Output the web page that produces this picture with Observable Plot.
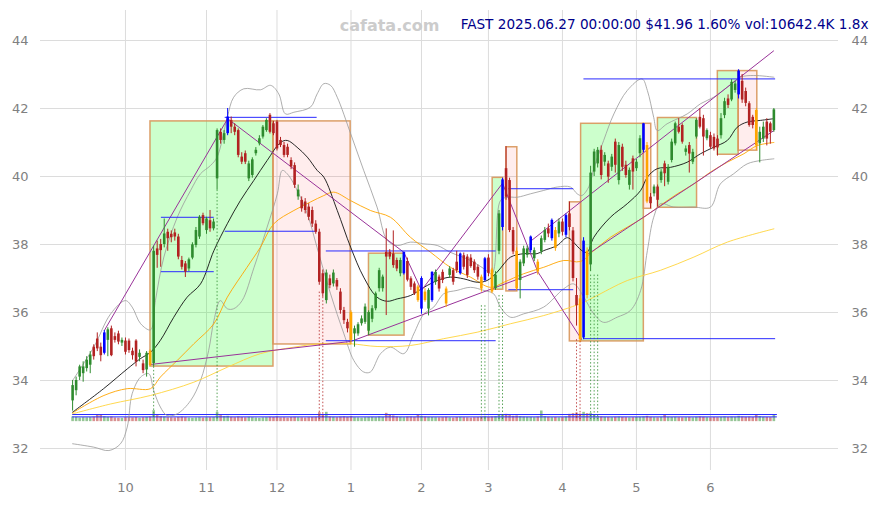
<!DOCTYPE html>
<html><head><meta charset="utf-8">
<script src="https://cdn.jsdelivr.net/npm/d3@7"></script>
<script src="https://cdn.jsdelivr.net/npm/@observablehq/plot@0.6"></script>
<style>
html,body{margin:0;padding:0;background:#fff;}
#chart{width:878px;height:505px;}
</style>
</head><body><div id="chart"></div>
<script>
// ---- axis ticks ----
const monthTicks = [15, 38, 58, 79, 99, 118, 139, 160, 181];
const monthLabels = ["10","11","12","1","2","3","4","5","6"];
const yTicks = [32,34,36,38,40,42,44];

// ---- daily candles (trading-day index 0..199) ----
const opens = [
33.40,33.70,34.10,34.20,34.35,34.45,34.98,35.22,34.98,34.80,
35.18,35.52,35.29,35.37,35.10,35.16,35.16,34.86,35.16,34.68,
34.49,34.31,34.86,34.50,37.87,38.00,38.00,38.36,38.30,38.34,
38.22,37.53,37.43,37.28,37.60,37.97,38.22,38.85,38.41,38.70,
38.46,39.93,41.30,41.06,41.26,41.65,41.45,41.35,40.57,40.67,
39.93,40.03,40.67,40.96,41.16,41.35,41.80,41.55,41.60,41.06,
40.91,40.86,40.47,40.32,39.40,39.30,39.25,39.10,39.00,38.60,
38.36,37.14,36.35,36.99,36.84,36.94,36.60,36.06,35.71,36.00,
35.37,35.37,35.67,35.71,35.45,35.80,36.11,36.70,36.70,37.77,
37.77,37.72,37.53,37.14,37.14,37.50,36.99,36.84,36.75,36.10,
36.60,36.10,36.35,36.89,37.04,37.18,36.69,37.09,37.23,37.48,
37.14,37.67,37.63,37.60,37.48,37.33,37.04,36.94,37.60,37.25,
36.70,37.80,38.50,40.23,39.88,38.41,37.80,36.94,37.43,37.68,
37.82,37.58,37.48,37.78,38.12,38.46,38.17,38.41,38.31,38.66,
38.27,38.90,38.40,36.50,36.40,35.25,37.80,37.40,40.13,40.37,
40.77,40.42,40.37,40.27,41.01,39.88,40.86,40.33,39.74,40.52,
40.23,40.67,40.77,40.91,39.39,39.49,39.69,39.88,40.37,39.83,
40.47,40.96,41.45,41.50,40.71,40.91,40.42,41.16,41.74,41.70,
41.11,41.20,41.15,41.10,41.20,41.79,42.28,42.25,42.53,42.40,
42.80,42.50,42.14,41.74,41.94,40.96,41.10,41.60,41.55,41.35];
const highs = [
34.00,34.10,34.45,34.55,34.70,34.85,35.05,35.40,35.10,35.47,
35.55,35.60,35.40,35.45,35.25,35.25,35.22,34.95,35.20,34.90,
34.60,34.85,34.90,37.95,38.10,38.15,38.75,38.45,38.40,38.45,
38.30,37.65,37.50,37.60,38.05,38.50,38.85,38.92,38.80,39.00,
38.75,41.40,41.40,41.35,42.00,41.75,41.55,41.40,40.70,40.75,
40.45,40.55,40.85,41.20,41.50,41.70,41.85,41.62,41.65,41.15,
41.00,40.95,40.55,40.40,39.75,39.40,39.35,39.20,39.10,38.70,
38.45,37.25,37.25,37.10,37.25,37.00,36.70,36.15,35.80,36.05,
35.60,35.70,35.90,36.25,36.05,36.20,36.60,37.30,37.10,38.46,
37.85,38.40,37.60,37.60,37.77,37.60,37.05,36.90,36.80,37.05,
36.70,36.70,37.20,37.25,37.10,37.25,36.75,37.35,37.30,37.80,
37.75,37.75,37.70,37.70,37.55,37.40,37.10,37.62,37.70,37.30,
37.20,39.00,39.95,40.88,39.95,38.50,37.90,37.55,37.95,37.95,
38.25,37.90,37.55,38.25,38.50,38.60,38.75,38.50,38.75,38.75,
38.90,39.25,38.50,37.00,36.50,38.20,37.90,40.30,40.80,40.85,
40.90,40.70,40.45,40.65,41.10,41.00,40.95,40.45,40.25,40.60,
40.50,41.20,41.55,41.00,39.50,39.75,39.75,40.20,40.45,40.35,
41.10,41.60,41.70,41.55,40.90,41.00,40.80,41.70,42.00,41.80,
41.40,41.30,41.25,41.20,41.85,42.30,42.40,42.85,42.80,43.14,
43.00,42.60,42.20,41.80,42.00,41.45,41.60,41.70,41.60,42.00];
const lows = [
33.10,33.55,34.00,33.95,34.25,34.20,34.60,34.85,34.55,34.75,
34.70,34.70,35.10,35.05,35.00,34.75,34.80,34.60,34.40,34.55,
34.20,34.10,34.41,34.40,37.30,37.33,37.90,37.80,38.05,38.10,
37.55,37.25,37.03,37.20,37.55,37.90,38.15,38.55,38.30,38.36,
38.40,39.60,40.95,40.95,41.20,41.26,41.20,40.55,40.35,40.35,
39.85,39.95,40.60,40.90,41.10,41.30,41.25,41.20,40.75,40.85,
40.55,40.55,40.20,39.65,39.30,38.95,38.90,38.70,38.50,38.30,
36.80,36.45,36.25,36.70,36.75,36.65,35.95,35.65,35.40,35.05,
34.98,35.30,35.60,35.65,35.32,35.70,36.05,36.60,36.60,35.91,
37.55,37.30,37.20,37.05,37.10,36.90,36.65,36.50,36.30,35.95,
36.30,35.90,36.30,36.80,36.60,36.85,36.15,37.00,36.80,37.15,
37.10,37.25,37.00,37.30,37.15,36.95,36.60,36.90,37.05,36.55,
36.65,37.70,38.40,39.30,38.35,37.70,36.63,36.40,37.35,37.60,
37.75,37.50,37.10,37.70,38.05,38.20,38.10,37.80,38.20,38.25,
38.20,38.40,36.90,35.60,35.13,35.20,36.40,37.20,40.00,40.25,
39.90,40.30,39.80,40.15,40.10,39.75,40.15,39.95,39.60,39.60,
40.15,40.55,40.70,39.20,39.05,39.40,39.10,39.80,39.70,39.75,
40.40,40.90,41.25,40.95,40.60,40.10,40.35,41.10,41.40,40.60,
41.05,40.80,40.75,40.60,41.10,41.70,42.00,42.20,42.45,42.28,
42.15,42.05,41.45,41.40,40.76,40.40,41.00,40.90,40.95,41.30];
const closes = [
33.85,34.00,34.40,34.40,34.60,34.75,34.70,34.93,34.73,35.40,
35.49,34.73,35.18,35.13,35.18,34.83,34.88,34.73,34.54,34.80,
34.29,34.80,34.44,37.80,37.68,37.82,38.31,38.17,38.20,38.22,
37.63,37.33,37.19,37.55,37.99,38.41,38.80,38.61,38.75,38.46,
38.66,41.35,41.06,41.26,41.75,41.45,41.30,40.62,40.42,40.42,
40.37,40.49,40.77,41.11,41.45,41.65,41.30,41.26,40.81,40.91,
40.62,40.62,40.28,39.74,39.60,39.05,39.00,38.80,38.60,38.36,
36.89,36.55,37.16,36.79,37.16,36.75,36.06,35.76,35.52,35.18,
35.52,35.64,35.81,36.16,36.00,36.11,36.55,37.23,37.04,37.63,
37.63,37.38,37.28,37.53,37.77,36.95,36.74,36.55,36.35,37.00,
36.35,36.65,37.18,37.18,36.69,36.94,36.25,37.28,36.89,37.23,
37.72,37.33,37.09,37.35,37.23,37.04,36.69,37.58,37.15,36.60,
37.10,38.90,39.90,39.39,38.41,37.78,36.70,37.48,37.87,37.87,
38.22,37.82,37.19,38.17,38.41,38.31,38.71,37.88,38.66,38.36,
38.85,38.50,37.00,36.20,35.20,38.10,36.50,40.10,40.72,40.77,
40.03,40.62,39.98,40.57,40.33,40.91,40.27,40.03,40.18,40.13,
40.42,41.11,41.55,39.25,39.20,39.69,39.30,40.13,40.08,40.27,
41.01,41.55,41.30,41.01,40.81,40.66,40.71,41.65,41.45,41.16,
41.35,40.86,40.81,40.84,41.70,42.20,42.09,42.77,42.72,43.10,
42.25,42.15,41.50,41.50,40.90,41.30,41.45,41.10,41.30,41.96];
// candle signal kind: G up, R down, B blue signal, O orange signal
const kinds =
"GGGGGGRRRB"+"GRRRGRRRRG"+"RGOGRRGRRR"+"RRRGGGGRGR"+"GGRGBRRRRR"+
"GGGGGGRRRR"+"RRRRGRRRRR"+"RRGRGRRRRO"+"GGGGGGGGGR"+"RRRGBRRROB"+
"OGBGRROGRR"+"BRRRRROBRO"+"GGBRRROGGG"+"BGOGGRBOGR"+"BRRROBOGGG"+
"RGRGRGRRGR"+"GGBORGRGRG"+"GGRRGRGGRR"+"GRRRGGRGGB"+"RRRROGGRRG";
// volume in thousands of shares
const volumes = [
7000,6500,5500,6000,5800,6200,6800,9500,10500,7500,
6500,7000,5500,5200,5000,6000,6500,5800,6200,5400,
6000,6300,7000,16500,9000,7500,6800,6000,5800,5500,
6200,6800,6000,5500,5200,5600,6000,5500,5800,6000,
6200,14000,9000,7500,8000,6500,6000,7000,6200,5800,
6500,6000,5500,5200,5800,6000,6500,6200,7000,5800,
6000,5500,6200,6500,6000,5800,5500,6000,6200,6500,
13500,9000,14000,7000,6500,6000,6800,7200,6500,7500,
6000,5800,5500,6000,6200,6500,6000,7000,6500,12500,
9500,8500,7000,6500,6000,6800,7000,6500,10500,8000,
7000,6500,6200,6000,5800,6000,6500,5800,5500,6200,
6500,6000,5800,5500,6000,6200,7000,7500,6500,7000,
7500,9000,10000,11000,9000,8000,8500,7500,6800,6500,
6500,6000,6800,16000,7500,6500,6000,6200,5800,6000,
7000,11000,12000,13000,11500,14000,12000,12500,9000,7500,
7000,6500,6200,6000,6500,6800,6200,6000,5800,6000,
6200,6500,7000,8000,6500,6000,5800,6500,9500,6500,
6200,6500,6000,5800,6000,6200,5800,6500,7000,6500,
6000,5800,6200,6000,6500,7000,6200,6800,6500,8000,
7000,6500,6800,6200,9500,7500,6500,6200,6000,10642];
const volAvgLines = [33.00, 32.93];

// ---- indicator lines: [index, value] ----
const maBlack = [[0,33.07],[8.8,33.76],[15.5,34.34],[19.2,34.64],[22.1,34.83],[24.9,35.18],[28.7,35.86],[32.5,36.45],[36.3,36.84],[40.1,37.82],[43.9,38.61],[47.6,39.29],[51.4,39.88],[55.2,40.47],[59,41.0],[60.9,41.06],[63.7,40.86],[66.6,40.57],[69.4,40.18],[71.3,39.98],[75.1,39.0],[78.9,37.92],[82.6,37.04],[86.4,36.45],[89.3,36.33],[92.1,36.4],[95.9,36.5],[99.7,36.74],[103.5,36.94],[107.2,37.04],[111,36.99],[114.8,36.89],[117.6,36.94],[120.5,37.19],[122.4,37.43],[124.3,37.63],[128,37.73],[131.8,37.73],[133.7,37.82],[137.5,37.97],[140.4,38.2],[143.2,37.95],[144.5,37.82],[146,37.77],[147.9,38.21],[152.6,38.8],[157.4,39.2],[161.2,39.59],[163.1,39.98],[165.9,40.23],[169.7,40.27],[174.4,40.42],[178.2,40.67],[181.9,40.86],[185.8,41.06],[188.6,41.45],[191.4,41.6],[195.2,41.65],[199,41.7]];
const maOrange = [[0,33.05],[8.9,33.56],[15.5,33.76],[22.1,33.76],[24.9,34.1],[29.7,34.59],[34.4,35.08],[40.1,35.67],[43.9,36.45],[49.5,37.33],[53.3,37.92],[57.1,38.61],[62.8,39.0],[67.5,39.25],[71.3,39.44],[74.1,39.54],[78.9,39.29],[84.5,39.0],[90.2,38.8],[95.9,38.21],[101.6,37.77],[107.2,37.33],[112.9,37.04],[118.6,36.74],[122.4,36.89],[128,37.14],[133.7,37.33],[139.4,37.53],[144.1,37.5],[147.9,37.82],[152.6,38.21],[157.4,38.51],[162.1,38.8],[166.8,39.15],[171.6,39.49],[176.3,39.78],[181,40.13],[185.8,40.42],[190.5,40.67],[194.3,40.91],[199,41.0]];
const maGold = [[0,33.02],[10.8,33.31],[22.1,33.56],[34.4,33.95],[43.9,34.39],[53.3,34.79],[62.8,34.98],[70.3,35.08],[78.9,35.08],[86.4,35.0],[95.9,35.03],[105.3,35.23],[114.8,35.42],[124.3,35.67],[133.7,35.91],[144.1,36.26],[147.9,36.45],[157.4,36.94],[166.8,37.24],[176.3,37.63],[185.8,38.07],[199,38.46]];
const bandUpper = [[0,34.0],[6,34.98],[10.8,35.96],[15,36.35],[16.9,36.16],[19.3,35.67],[22.1,35.49],[23.5,36.35],[25.9,37.63],[29.7,38.8],[33.5,39.59],[36.3,40.08],[39.1,40.32],[41,40.57],[43.9,41.74],[45.7,42.33],[48.6,42.58],[53.3,42.55],[56.2,42.68],[58.5,42.43],[60.4,41.84],[62.8,41.89],[67.5,42.04],[69.4,42.43],[71.3,42.73],[73.2,42.68],[75.1,42.33],[78.9,41.26],[82.6,40.18],[86.4,39.1],[89.3,38.12],[92.1,37.97],[95.9,38.07],[99.7,38.02],[103.5,37.97],[107.2,37.77],[112.9,37.53],[116.7,37.29],[119,37.14],[121.4,39.29],[123.3,39.39],[126.2,39.39],[129.9,39.49],[133.7,39.59],[137.5,39.69],[141.3,39.69],[143.2,39.49],[144.5,39.44],[146.5,39.7],[148,40.27],[150.7,41.06],[153.6,41.84],[157.4,42.53],[161.6,42.87],[163.1,42.53],[164.9,41.74],[165.9,41.35],[168.7,41.55],[174.4,41.84],[178.2,42.14],[181.9,42.33],[185.8,42.63],[189.5,42.92],[193.3,42.97],[199,42.92]];
const bandLower = [[0,32.14],[6,32.04],[10.3,31.94],[13.6,32.14],[15.5,32.63],[16.9,33.61],[19.3,34.1],[21.6,34.2],[23,33.71],[24.9,33.22],[26.8,32.97],[29.7,33.02],[33.5,33.41],[36.3,34.0],[38.6,34.88],[40.1,35.76],[41.9,36.35],[43.9,36.11],[45.7,36.11],[48.1,36.35],[51.5,37.33],[55.2,38.51],[58.1,39.49],[59.5,40.18],[60.9,40.08],[62.8,39.78],[66.6,38.9],[69.4,37.9],[73.2,36.55],[77,35.37],[79.8,34.59],[82.6,34.25],[84.5,34.25],[87.4,34.79],[90.2,34.98],[94,34.79],[96.8,35.37],[99.7,35.96],[102.5,36.16],[105.3,36.55],[109.1,36.65],[112.9,36.74],[116.7,36.65],[119.5,36.55],[121.4,36.16],[124.3,35.86],[128,35.96],[133.7,36.16],[139.4,36.7],[142.2,36.84],[145.1,36.45],[147.9,35.96],[150.7,35.71],[154.5,35.86],[158.3,36.06],[161.2,36.65],[163.1,37.82],[164.9,38.8],[166.8,39.2],[170.6,39.1],[176.3,39.1],[181,39.1],[183.8,39.78],[187.6,40.08],[191.4,40.37],[195.2,40.47],[199,40.52]];

// ---- zigzag / channel lines: [i1, v1, i2, v2] ----
const trendLines = [
[9,35.47,44,41.7],[44,41.7,94,37.77],[94,37.77,99,36.65],[99,36.65,122,39.8],
[122,39.8,132,37.2],[132,37.2,144.5,35.2],[22,34.47,79,35.15],[79,35.15,132,37.2],
[130,38.1,199,43.7],[146,37.7,199,41.35]];

// ---- support / resistance lines: [i1, i2, value] ----
const levelLines = [
[25.2,40.2,38.8],[25.2,40.2,37.2],[43.3,69.4,38.39],[43.3,69.4,41.74],
[72,120.2,37.81],[72,120.2,35.17],[123.8,142.2,39.64],[123.8,142.2,36.67],
[145.1,199.5,42.87],[145.1,199.5,35.23]];

// ---- boxes: [i1, i2, low, high] ----
const upBoxes = [[22.1,57,34.41,41.62],[84.1,94.2,35.32,37.73],[119.2,122.2,36.67,39.96],[144.3,162.1,35.15,41.55],[166.1,177.2,39.08,41.72],[183.1,189,40.64,43.1]];
const downBoxes = [[57,78.9,35.06,41.62],[123.1,126.2,36.62,40.86],[141.1,144.3,35.15,39.24],[162.1,164.2,39.05,41.55],[189,194.3,40.76,43.1]];

// ---- signal marker dotted lines: [index, top value] ----
const upMarks = [[23,34.4],[41,39.6],[116,36.2],[117,36.2],[121,36.5],[122,36.5],[147,37.1],[148,37.1],[149,37.1]];
const downMarks = [[70,36.6],[71,36.45],[143,35.2],[144,35.15]];

const titleText = "FAST 2025.06.27 00:00:00 $41.96 1.60% vol:10642.4K 1.8x";
const watermark = "cafata.com";

// ---- build ----
const candles = opens.map((o,i)=>({i, o, h:highs[i], l:lows[i], c:closes[i], k:kinds[i], v:volumes[i]}));
const colors = {G:"#2e8b2e", R:"#b22222", B:"#0000ff", O:"#ffa500"};
const volBase = 32.79, volK = 0.0000196; // value units per thousand shares
const volTop = d => volBase + d.v * volK;

const candleMarks = [];
for (const k of ["G","R","B","O"]) {
  const data = candles.filter(d=>d.k===k);
  candleMarks.push(Plot.ruleX(data, {x:"i", y1:"l", y2:"h", stroke:colors[k], strokeWidth:1}));
  candleMarks.push(Plot.ruleX(data, {x:"i", y1:"o", y2:"c", stroke:colors[k], strokeWidth:2.6}));
}

const lineOpt = (stroke, w=0.8) => ({x:d=>d[0], y:d=>d[1], stroke, strokeWidth:w, curve:"catmull-rom"});

const chart = Plot.plot({
  width: 878, height: 505,
  marginLeft: 40, marginRight: 40, marginTop: 10, marginBottom: 35,
  style: {fontFamily: "DejaVu Sans", fontSize: "13px", background: "#fff"},
  x: {domain: [-9.109, 217.34]},
  y: {domain: [31.353, 44.882]},
  marks: [
    Plot.gridY(yTicks, {stroke:"#dcdcdc", strokeOpacity:1, strokeWidth:1}),
    Plot.gridX(monthTicks, {stroke:"#dcdcdc", strokeOpacity:1, strokeWidth:1}),
    Plot.axisY({anchor:"left", ticks:yTicks, tickSize:0, tickPadding:12, label:null, color:"#808080", fontSize:13}),
    Plot.axisY({anchor:"right", ticks:yTicks, tickSize:0, tickPadding:13, label:null, color:"#808080", fontSize:13}),
    Plot.axisX({ticks:monthTicks, tickFormat:d=>monthLabels[monthTicks.indexOf(d)], tickSize:0, tickPadding:12, label:null, color:"#808080", fontSize:13}),
    Plot.rect(upBoxes, {x1:d=>d[0], x2:d=>d[1], y1:d=>d[2], y2:d=>d[3], fill:"lime", fillOpacity:0.2, stroke:"#d8965a", strokeWidth:1.5, strokeOpacity:0.9}),
    Plot.rect(downBoxes, {x1:d=>d[0], x2:d=>d[1], y1:d=>d[2], y2:d=>d[3], fill:"#ff0000", fillOpacity:0.07, stroke:"#d8965a", strokeWidth:1.5, strokeOpacity:0.9}),
    Plot.ruleX(candles.filter(d=>d.c>=d.o), {x:"i", y1:volBase, y2:volTop, stroke:"#2e8b2e", strokeOpacity:0.5, strokeWidth:2.6}),
    Plot.ruleX(candles.filter(d=>d.c<d.o), {x:"i", y1:volBase, y2:volTop, stroke:"#b22222", strokeOpacity:0.5, strokeWidth:2.6}),
    Plot.ruleY(volAvgLines, {y:d=>d, x1:0, x2:200, stroke:"#2a2aff", strokeWidth:1}),
    Plot.line(bandUpper, lineOpt("#999999")),
    Plot.line(bandLower, lineOpt("#999999")),
    Plot.line(maGold, lineOpt("#ffd43b", 0.9)),
    Plot.line(maOrange, lineOpt("#ffa500", 0.9)),
    Plot.line(maBlack, lineOpt("#111111", 0.9)),
    Plot.link(trendLines, {x1:d=>d[0], y1:d=>d[1], x2:d=>d[2], y2:d=>d[3], stroke:"#993399", strokeWidth:1}),
    Plot.ruleY(levelLines, {y:d=>d[2], x1:d=>d[0], x2:d=>d[1], stroke:"#2a2aff", strokeWidth:1}),
    Plot.ruleX(upMarks, {x:d=>d[0], y1:d=>d[1], y2:32.85, stroke:"#2e8b2e", strokeWidth:0.8, strokeDasharray:"1.5,2"}),
    Plot.ruleX(downMarks, {x:d=>d[0], y1:d=>d[1], y2:32.85, stroke:"#b22222", strokeWidth:0.8, strokeDasharray:"1.5,2"}),
    ...candleMarks,
    Plot.text([watermark], {frameAnchor:"top-left", dx:349, dy:9, text:d=>d, textAnchor:"middle", fill:"#cccccc", fontSize:16, fontWeight:"bold"}),
    Plot.text([titleText], {frameAnchor:"top-right", dx:30, dy:9, text:d=>d, textAnchor:"end", fill:"#00008b", fontSize:13.6})
  ]
});
document.getElementById("chart").appendChild(chart);
</script>
</body></html>
